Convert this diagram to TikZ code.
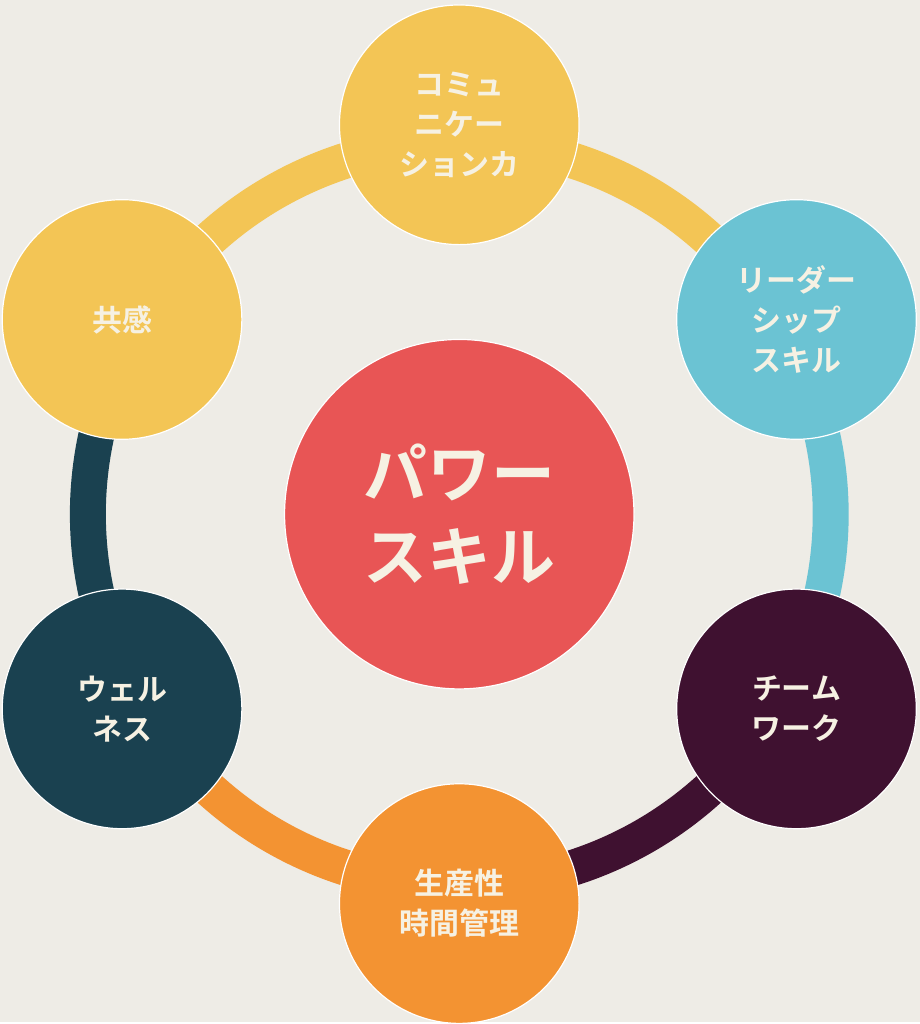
\documentclass[tikz,border=0pt]{standalone}
\usepackage{fontspec}
\usetikzlibrary{calc}
\newfontfamily\jp{Noto Sans CJK JP Bold}
\definecolor{bg}{HTML}{EEECE6}
\definecolor{cy}{HTML}{F3C555}
\definecolor{cb}{HTML}{6BC3D3}
\definecolor{cp}{HTML}{3F1130}
\definecolor{co}{HTML}{F39332}
\definecolor{ct}{HTML}{1A4150}
\definecolor{cr}{HTML}{E85555}
\definecolor{tx}{HTML}{F6F1E3}
\begin{document}
\begin{tikzpicture}[x=1pt,y=1pt,
  bub/.style={circle,minimum size=240pt,inner sep=0pt,draw=white,line width=1.2pt,text=tx,align=center,font=\jp\fontsize{30}{40}\selectfont},
  ringseg/.style={line width=36pt}]
\fill[bg] (0,0) rectangle (921,1024);
\coordinate (c) at (460,509);
\foreach \a/\col in {90/cy,30/cb,-30/cp,-90/co,-150/ct,150/cy}{
  \draw[ringseg,\col] (c) ++(\a:372) arc[start angle=\a,end angle=\a-60,radius=372];
}
\node[bub,fill=cy] (n1) at ($(c)+(90:390)$) {コミュ\\ニケー\\ションカ};
\node[bub,fill=cb] (n2) at ($(c)+(30:390)$) {リーダー\\シップ\\スキル};
\node[bub,fill=cp] (n3) at ($(c)+(-30:390)$) {チーム\\ワーク};
\node[bub,fill=co] (n4) at ($(c)+(-90:390)$) {生産性\\時間管理};
\node[bub,fill=ct] (n5) at ($(c)+(-150:390)$) {ウェル\\ネス};
\node[bub,fill=cy] (n6) at ($(c)+(150:390)$) {共感};
\node[bub,fill=cr,minimum size=350pt,font=\jp\fontsize{64}{84}\selectfont] (m) at (c) {パワー\\スキル};
\end{tikzpicture}
\end{document}
